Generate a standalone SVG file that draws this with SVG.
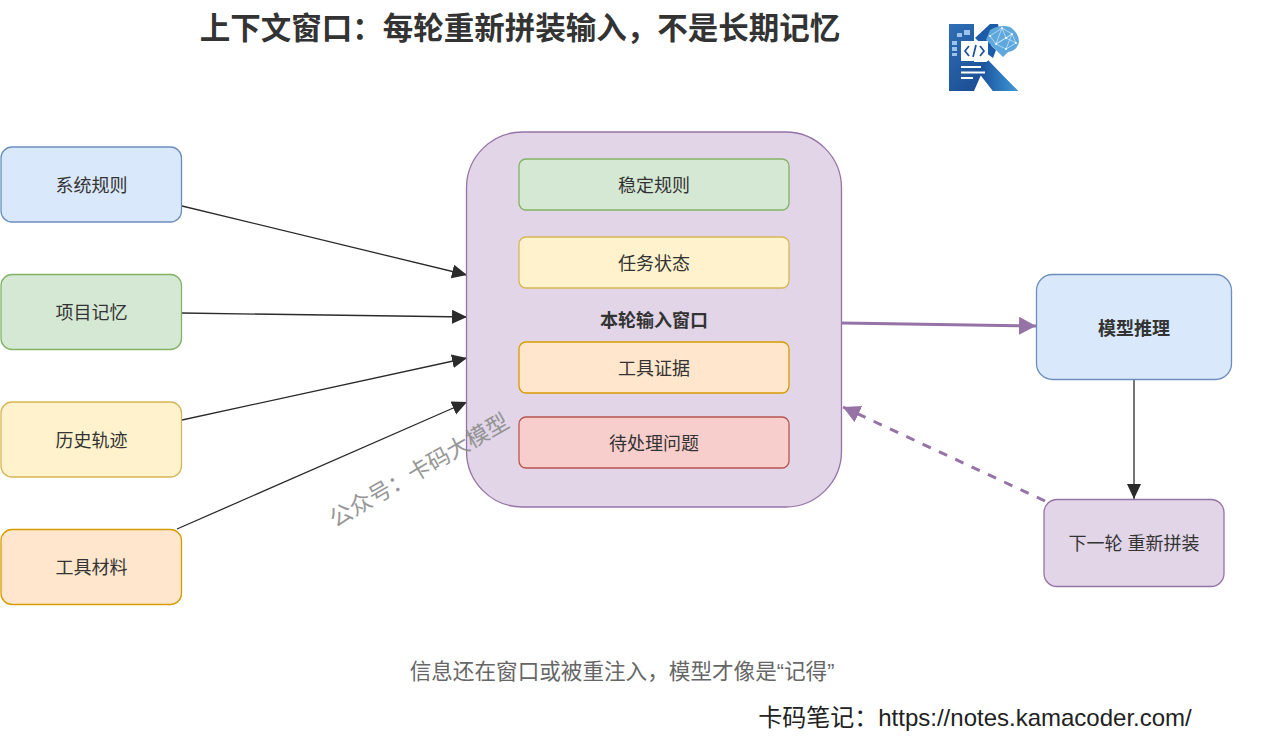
<svg xmlns="http://www.w3.org/2000/svg" width="1276" height="749" viewBox="0 0 1276 749">
<style>
text{font-family:"Liberation Sans","Noto Sans CJK SC",sans-serif;text-anchor:middle;fill:#333}
.n text{font-size:18px}
.b{fill:#dae8fc;stroke:#6c8ebf;stroke-width:1.3}
.g{fill:#d5e8d4;stroke:#82b366;stroke-width:1.3}
.y{fill:#fff2cc;stroke:#d6b656;stroke-width:1.3}
.o{fill:#ffe6cc;stroke:#d79b00;stroke-width:1.3}
.r{fill:#f8cecc;stroke:#b85450;stroke-width:1.3}
.p{fill:#e1d5e7;stroke:#9673a6;stroke-width:1.3}
.c{fill:none;stroke:#2b2b2b;stroke-width:1.3}
.v{fill:none;stroke:#9673a6;stroke-width:3}
</style>
<defs>
<marker id="a" markerUnits="userSpaceOnUse" markerWidth="16" markerHeight="15" refX="15" refY="7" orient="auto"><path d="M0 0L15 7L0 14Z" fill="#2b2b2b"/></marker>
<marker id="pa" markerUnits="userSpaceOnUse" markerWidth="18" markerHeight="20" refX="17" refY="9" orient="auto"><path d="M0 0L17 9L0 18Z" fill="#9673a6"/></marker>
<linearGradient id="lg" x1="0" y1="0" x2="1" y2="1"><stop offset="0" stop-color="#2f6fb5"/><stop offset="1" stop-color="#123f86"/></linearGradient>
<linearGradient id="lg2" x1="0" y1="0" x2="1" y2="0"><stop offset="0" stop-color="#174c97"/><stop offset="1" stop-color="#3f9ad8"/></linearGradient>
</defs>

<text x="520" y="39" style="font-size:30.500px;font-weight:bold">上下文窗口：每轮重新拼装输入，不是长期记忆</text>

<g id="logo">
<path d="M949 24H974V62H988L1018 91H993L981 75L974 91H949Z" fill="url(#lg)"/>
<path d="M988 60L1018 91H993L978 72Z" fill="url(#lg2)"/>
<path d="M975 38L990 24H998L1000 34L988 50Z" fill="#1c5ba8"/>
<path d="M978 47L985 40L996 50L993 58Z" fill="#1c5ba8"/>
<path d="M990 30Q1000 24 1010 27Q1019 33 1019 42Q1017 51 1008 52L1003 57L994 48L986 40Z" fill="#5ea8de"/>
<g stroke="#e6f3fc" stroke-width=".6" fill="none"><path d="M990 36L1002 28L1012 34L1016 43L1006 49L996 44L990 36M1002 28L996 44L1012 34L1006 49M1002 28L1006 38L996 44M1006 38L1016 43M1006 38L1012 34"/></g>
<g fill="#f2f9fe"><circle cx="1002" cy="28" r="1"/><circle cx="1012" cy="34" r="1"/><circle cx="1006" cy="38" r="1.100"/><circle cx="996" cy="44" r="1"/><circle cx="1016" cy="43" r="1"/><circle cx="1006" cy="49" r="1"/><circle cx="990" cy="36" r="1"/></g>
<rect x="961" y="41" width="27" height="20" fill="#fff"/>
<path d="M969 46L965 51L969 56M980 46L984 51L980 56M976 45L973 57" fill="none" stroke="#1b4f98" stroke-width="1.700"/>
<path d="M961 67H981M961 72.500H985M961 78H973" stroke="#fff" stroke-width="2" fill="none"/>
<path d="M952 41h5v4h-5zM952 47h5v4h-5zM952 53h5v3h-5zM957 33h5v4h-5zM964 30h6v5h-6z" fill="#9cc4e8"/>
</g>

<g id="connectors">
<path class="c" d="M182 206L467 275" marker-end="url(#a)"/>
<path class="c" d="M182 313L467 317" marker-end="url(#a)"/>
<path class="c" d="M182 420L467 358" marker-end="url(#a)"/>
<path class="c" d="M177 529L467 402" marker-end="url(#a)"/>
<path class="v" d="M842 323L1036 326" marker-end="url(#pa)"/>
<path class="c" d="M1134 380V499" marker-end="url(#a)"/>
<path class="v" d="M1045 501L843 407" stroke-dasharray="9 9" marker-end="url(#pa)"/>
</g>

<g id="n1" class="n"><rect class="b" x="1" y="147" width="180.500" height="75" rx="11"/><text x="91.500" y="191.500">系统规则</text></g>
<g id="n2" class="n"><rect class="g" x="1" y="274.500" width="180.500" height="75" rx="11"/><text x="91.500" y="319">项目记忆</text></g>
<g id="n3" class="n"><rect class="y" x="1" y="402" width="180.500" height="75" rx="11"/><text x="91.500" y="446.500">历史轨迹</text></g>
<g id="n4" class="n"><rect class="o" x="1" y="529.500" width="180.500" height="75" rx="11"/><text x="91.500" y="574">工具材料</text></g>

<g id="window" class="n"><rect class="p" x="466.500" y="132" width="375" height="375" rx="56"/><text x="654" y="327" style="font-weight:bold">本轮输入窗口</text></g>
<g id="w1" class="n"><rect class="g" x="519" y="159" width="270" height="51" rx="7"/><text x="654" y="191.500">稳定规则</text></g>
<g id="w2" class="n"><rect class="y" x="519" y="237" width="270" height="51" rx="7"/><text x="654" y="269.500">任务状态</text></g>
<g id="w3" class="n"><rect class="o" x="519" y="342" width="270" height="51" rx="7"/><text x="654" y="374.500">工具证据</text></g>
<g id="w4" class="n"><rect class="r" x="519" y="417" width="270" height="51" rx="7"/><text x="654" y="449.500">待处理问题</text></g>

<g id="model" class="n"><rect class="b" x="1036.500" y="274.500" width="195" height="105" rx="16"/><text x="1134" y="334.500" style="font-weight:bold">模型推理</text></g>
<g id="next" class="n"><rect class="p" x="1044" y="499.500" width="180" height="87" rx="13"/><text x="1134" y="550">下一轮 重新拼装</text></g>

<text transform="translate(423 477) rotate(-30)" style="font-size:22.500px;fill:#8c8c8c;opacity:.9">公众号：卡码大模型</text>
<text x="622" y="679" style="font-size:21.600px;fill:#666">信息还在窗口或被重注入，模型才像是“记得”</text>
<text x="975" y="726" style="font-size:24px;fill:#222">卡码笔记：https://notes.kamacoder.com/</text>
</svg>
